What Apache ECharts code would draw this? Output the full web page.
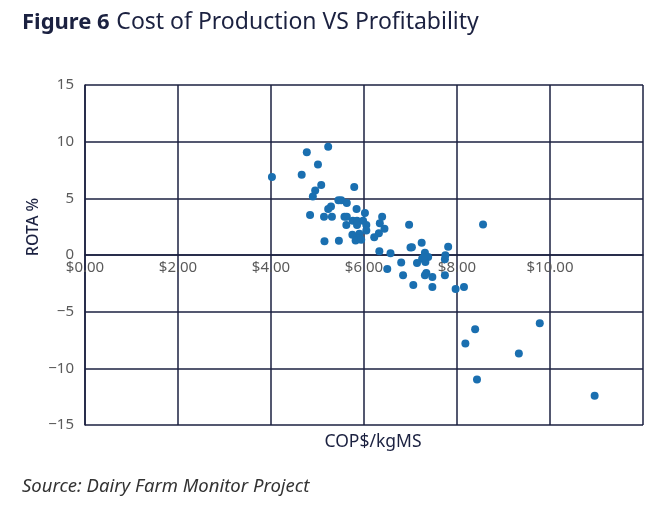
<!DOCTYPE html>
<html>
<head>
<meta charset="utf-8">
<script src="https://cdn.jsdelivr.net/npm/echarts@6/dist/echarts.min.js"></script>
<style>
html,body{margin:0;padding:0;background:#fff;}
#chart{width:664px;height:508px;}
</style>
</head>
<body>
<div id="chart"></div>
<script>
// COP $/kgMS
var copValues = [4.02,4.77,5.23,5.01,4.66,5.08,4.95,4.90,5.79,5.45,5.51,5.63,5.29,5.23,5.84,6.02,4.84,5.14,5.31,5.58,5.63,5.76,5.85,5.98,6.39,6.34,6.97,5.62,5.85,6.05,6.44,6.05,5.75,5.90,6.32,6.22,5.88,5.82,5.94,5.15,5.46,6.33,6.57,7.00,8.56,7.24,7.03,7.81,7.31,7.38,7.25,7.32,7.28,7.75,7.74,6.80,7.14,6.50,7.34,7.31,6.84,7.74,7.47,7.06,7.47,7.97,8.15,8.39,8.18,9.78,9.33,8.43,10.96];
// ROTA %
var rotaValues = [6.89,9.06,9.56,7.99,7.07,6.18,5.69,5.16,6.01,4.83,4.83,4.59,4.27,4.06,4.06,3.70,3.52,3.38,3.38,3.38,3.38,3.03,3.03,3.03,3.38,2.81,2.67,2.64,2.64,2.64,2.32,2.17,1.78,1.87,1.93,1.57,1.46,1.28,1.34,1.22,1.25,0.33,0.15,0.66,2.70,1.07,0.68,0.72,0.19,-0.17,-0.32,-0.61,-0.23,-0.03,-0.38,-0.67,-0.70,-1.23,-1.59,-1.78,-1.78,-1.78,-1.94,-2.65,-2.83,-3.01,-2.83,-6.56,-7.80,-6.02,-8.69,-10.99,-12.41];
var xTickLabels = ['$0.00','$2.00','$4.00','$6.00','$8.00','$10.00',''];
var yTicks = [-15,-10,-5,0,5,10,15];

var points = copValues.map(function(v,i){return [v, rotaValues[i]];});
var navy = '#1b2140';
var fontFam = '"Noto Sans", sans-serif';
var gridTop = 85, gridBottom = 83, chartH = 508;
var plotH = chartH - gridTop - gridBottom;

var chart = echarts.init(document.getElementById('chart'), null, {renderer:'canvas'});
chart.setOption({
  animation:false,
  backgroundColor:'#ffffff',
  grid:{left:85,right:21,top:gridTop,bottom:gridBottom},
  xAxis:{
    type:'value',min:0,max:12,interval:2,
    position:'bottom',
    offset:-plotH/2,
    axisLine:{show:true,onZero:false,lineStyle:{color:navy,width:1.5}},
    axisTick:{show:false},
    splitLine:{show:true,lineStyle:{color:navy,width:1.5}},
    axisLabel:{color:'#5a5a5a',fontSize:15,fontFamily:fontFam,margin:5,
      formatter:function(v){return xTickLabels[Math.round(v/2)];}}
  },
  yAxis:{
    type:'value',min:-15,max:15,interval:5,
    axisLine:{show:true,lineStyle:{color:navy,width:1.5}},
    axisTick:{show:false},
    splitLine:{show:true,lineStyle:{color:navy,width:1.5}},
    axisLabel:{color:'#5a5a5a',fontSize:15,fontFamily:fontFam,margin:11,
      formatter:function(v){return String(v).replace('-','\u2212');}}
  },
  series:[{
    type:'scatter',
    data:points,
    symbolSize:8,
    itemStyle:{color:'#1a6fb0',opacity:1}
  }],
  graphic:[
    {type:'text',left:22,top:11,style:{
      text:'{b|Figure 6}  {r|Cost of Production VS Profitability}',
      rich:{
        b:{fontSize:22,fontWeight:'bold',fontFamily:fontFam,fill:navy},
        r:{fontSize:23,fontFamily:fontFam,fill:navy}
      }}},
    {type:'text',x:373,y:442,style:{text:'COP$/kgMS',fontSize:17.5,fontFamily:fontFam,fill:navy,align:'center',verticalAlign:'middle'}},
    {type:'text',x:33,y:227,rotation:Math.PI/2,style:{text:'ROTA %',fontSize:16,fontWeight:500,fontFamily:fontFam,fill:navy,align:'center',verticalAlign:'middle'}},
    {type:'text',left:22,top:477,style:{text:'Source: Dairy Farm Monitor Project',fontSize:18.5,fontStyle:'italic',fontFamily:fontFam,fill:'#333333'}}
  ]
});
</script>
</body>
</html>
